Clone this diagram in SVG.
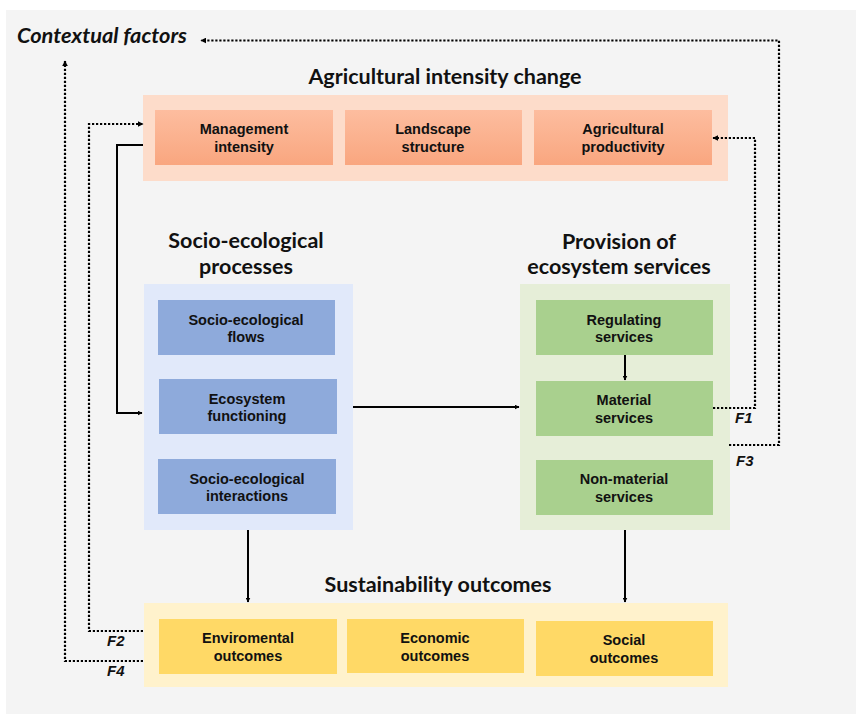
<svg xmlns="http://www.w3.org/2000/svg" width="856" height="714" viewBox="0 0 856 714">
<defs>
<linearGradient id="og" x1="0" y1="0" x2="0" y2="1">
<stop offset="0" stop-color="#fdbd9f"/>
<stop offset="1" stop-color="#f9a67f"/>
</linearGradient>
<marker id="ah" viewBox="0 0 10 10" refX="9" refY="5" markerWidth="5" markerHeight="5" markerUnits="userSpaceOnUse" orient="auto">
<path d="M0,0 L10,5 L0,10 z" fill="#000"/>
</marker>
<marker id="ahd" viewBox="0 0 10 10" refX="9" refY="5" markerWidth="6" markerHeight="6" markerUnits="userSpaceOnUse" orient="auto">
<path d="M0,0 L10,5 L0,10 z" fill="#000"/>
</marker>
</defs>
<style>
.title{font-family:Lato,"Liberation Sans",sans-serif;font-weight:bold;font-size:21.5px;fill:#111;text-anchor:middle}
.lbl{font-family:"Liberation Sans",Arial,sans-serif;font-weight:bold;font-size:14.5px;fill:#111;text-anchor:middle}
.f{font-family:"Liberation Sans",Arial,sans-serif;font-weight:bold;font-style:italic;font-size:15px;fill:#111}
.solid{fill:none;stroke:#000;stroke-width:2}
.dot{fill:none;stroke:#000;stroke-width:2.2;stroke-dasharray:2.2 1.8}
</style>
<rect x="0" y="0" width="856" height="714" fill="#ffffff"/>
<rect x="6" y="10" width="850" height="704" fill="#f4f4f4"/>

<text x="17" y="43" font-family="Lato,'Liberation Sans',sans-serif" font-weight="bold" font-style="italic" font-size="21.8" fill="#111">Contextual factors</text>

<g id="agri">
<text class="title" x="445" y="84">Agricultural intensity change</text>
<rect x="143" y="95" width="585" height="86" fill="#fddcca"/>
</g>
<g id="mgmt">
<rect x="155" y="110" width="178" height="55" fill="url(#og)"/>
<text class="lbl" x="244" y="134">Management</text>
<text class="lbl" x="244" y="152">intensity</text>
</g>
<g id="landscape">
<rect x="345" y="110" width="177" height="55" fill="url(#og)"/>
<text class="lbl" x="433" y="134">Landscape</text>
<text class="lbl" x="433" y="152">structure</text>
</g>
<g id="agprod">
<rect x="534" y="110" width="178" height="55" fill="url(#og)"/>
<text class="lbl" x="623" y="134">Agricultural</text>
<text class="lbl" x="623" y="152">productivity</text>
</g>

<g id="seproc">
<text class="title" x="246" y="248">Socio-ecological</text>
<text class="title" x="246" y="274">processes</text>
<rect x="144" y="284" width="209" height="246" fill="#e1e9fa"/>
</g>
<g id="seflows">
<rect x="158" y="300" width="177" height="55" fill="#8eaadb"/>
<text class="lbl" x="246" y="325">Socio-ecological</text>
<text class="lbl" x="246" y="342">flows</text>
</g>
<g id="ecofunc">
<rect x="159" y="379" width="178" height="55" fill="#8eaadb"/>
<text class="lbl" x="247" y="404">Ecosystem</text>
<text class="lbl" x="247" y="421">functioning</text>
</g>
<g id="seinter">
<rect x="158" y="459" width="178" height="55" fill="#8eaadb"/>
<text class="lbl" x="247" y="484">Socio-ecological</text>
<text class="lbl" x="247" y="501">interactions</text>
</g>

<g id="provision">
<text class="title" x="619" y="249">Provision of</text>
<text class="title" x="619" y="274">ecosystem services</text>
<rect x="520" y="284" width="210" height="246" fill="#e6eed8"/>
</g>
<g id="regulating">
<rect x="536" y="300" width="177" height="55" fill="#a9d08e"/>
<text class="lbl" x="624" y="325">Regulating</text>
<text class="lbl" x="624" y="342">services</text>
</g>
<g id="material">
<rect x="536" y="381" width="177" height="55" fill="#a9d08e"/>
<text class="lbl" x="624" y="405">Material</text>
<text class="lbl" x="624" y="423">services</text>
</g>
<g id="nonmaterial">
<rect x="536" y="460" width="177" height="55" fill="#a9d08e"/>
<text class="lbl" x="624" y="484">Non-material</text>
<text class="lbl" x="624" y="502">services</text>
</g>

<g id="sustain">
<text class="title" x="438" y="592">Sustainability outcomes</text>
<rect x="144" y="603" width="584" height="84" fill="#fff2cc"/>
</g>
<g id="env">
<rect x="159" y="619" width="178" height="55" fill="#ffd966"/>
<text class="lbl" x="248" y="643">Enviromental</text>
<text class="lbl" x="248" y="661">outcomes</text>
</g>
<g id="econ">
<rect x="347" y="619" width="177" height="54" fill="#ffd966"/>
<text class="lbl" x="435" y="643">Economic</text>
<text class="lbl" x="435" y="661">outcomes</text>
</g>
<g id="social">
<rect x="536" y="621" width="177" height="55" fill="#ffd966"/>
<text class="lbl" x="624" y="645">Social</text>
<text class="lbl" x="624" y="663">outcomes</text>
</g>

<g id="connectors">
<path class="solid" d="M143,145 H117 V413 H142" marker-end="url(#ah)"/>
<path class="solid" d="M353,407 H519" marker-end="url(#ah)"/>
<path class="solid" d="M625,355 V380" marker-end="url(#ah)"/>
<path class="solid" d="M248,530 V602" marker-end="url(#ah)"/>
<path class="solid" d="M625,530 V602" marker-end="url(#ah)"/>
<path class="dot" d="M713,408 H755 V138 H713" marker-end="url(#ahd)"/>
<path class="dot" d="M729,445 H779 V40.5 H201" marker-end="url(#ahd)"/>
<path class="dot" d="M143,631 H89 V124 H143" marker-end="url(#ahd)"/>
<path class="dot" d="M143,661 H65 V61" marker-end="url(#ahd)"/>
<text class="f" x="735" y="423">F1</text>
<text class="f" x="736" y="466">F3</text>
<text class="f" x="107" y="646">F2</text>
<text class="f" x="107" y="676">F4</text>
</g>
</svg>
